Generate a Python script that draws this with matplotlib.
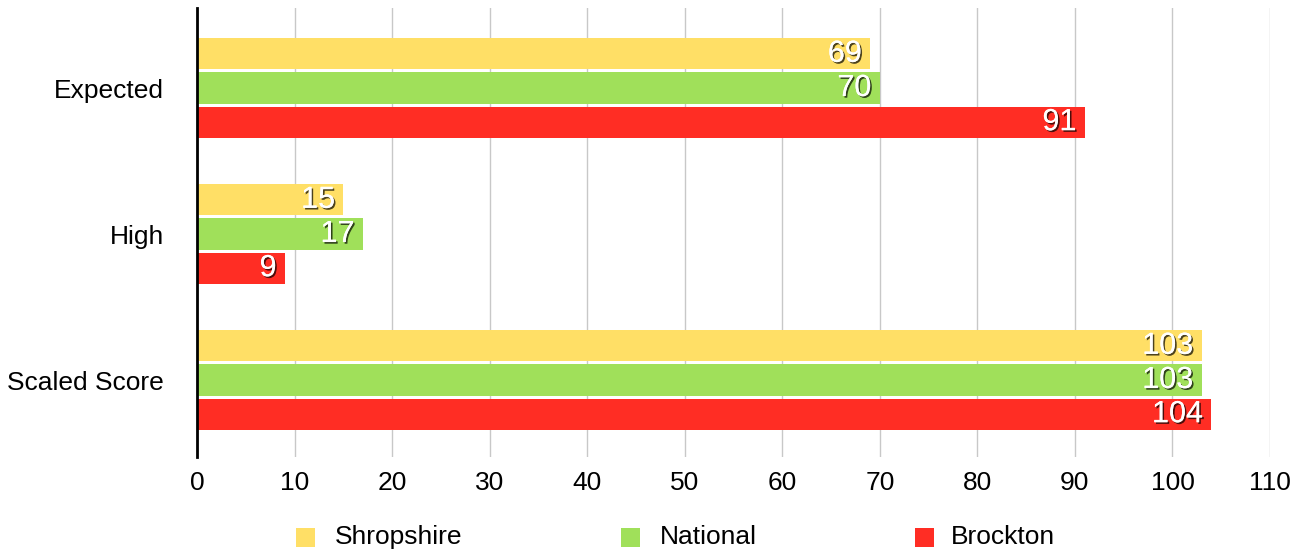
import numpy as np
import matplotlib.pyplot as plt
import matplotlib.patheffects as pe
from matplotlib.patches import Rectangle

plt.rcParams['font.family'] = ['Liberation Sans', 'DejaVu Sans']

categories = ['Expected', 'High', 'Scaled Score']
series_names = ['Shropshire', 'National', 'Brockton']
shropshire = [69, 15, 103]
national = [70, 17, 103]
brockton = [91, 9, 104]
colors = ['#FFDF66', '#A0E05A', '#FF2D24']
xticks = list(range(0, 120, 10))

W, H = 1303, 551
fig = plt.figure(figsize=(W / 100, H / 100), dpi=100)
ax = fig.add_axes([197 / W, 94 / H, 1073 / W, 449 / H])

y = np.arange(len(categories))
bar_h = 0.213
step = 0.234
shadow = [pe.withSimplePatchShadow(offset=(1.2, -1.2), shadow_rgbFace='black', alpha=0.7),
          pe.Normal()]

for i, (vals, col) in enumerate(zip([shropshire, national, brockton], colors)):
    pos = y + (i - 1) * step
    ax.barh(pos, vals, height=bar_h, color=col, zorder=2)
    for p, v in zip(pos, vals):
        ax.annotate(str(v), xy=(v, p), xytext=(-6, 0), textcoords='offset points',
                    ha='right', va='center', color='white', fontsize=22,
                    path_effects=shadow, zorder=3)

ax.set_xlim(0, 110)
ax.set_ylim(2.527, -0.548)
ax.set_xticks(xticks)
ax.set_yticks(y)
ax.set_yticklabels(categories)
ax.tick_params(axis='both', length=0, labelsize=19)
ax.tick_params(axis='x', pad=10)
ax.tick_params(axis='y', pad=24)
ax.xaxis.grid(True, color='#c8c8c8', linewidth=1, zorder=0)
ax.set_axisbelow(True)
for s in ['top', 'right', 'bottom']:
    ax.spines[s].set_visible(False)
ax.spines['left'].set_linewidth(2)
ax.spines['left'].set_color('black')

# legend row along the bottom
sq = 19
legend_y = 537
for name, col, sx, tx in zip(series_names, colors, [296, 621, 915], [335, 660, 951]):
    fig.add_artist(Rectangle((sx / W, (H - legend_y - sq / 2) / H), sq / W, sq / H,
                             transform=fig.transFigure, facecolor=col, edgecolor='none'))
    fig.text(tx / W, (H - legend_y) / H, name, fontsize=19, ha='left', va='center')

fig.savefig('out.png', dpi=100)
